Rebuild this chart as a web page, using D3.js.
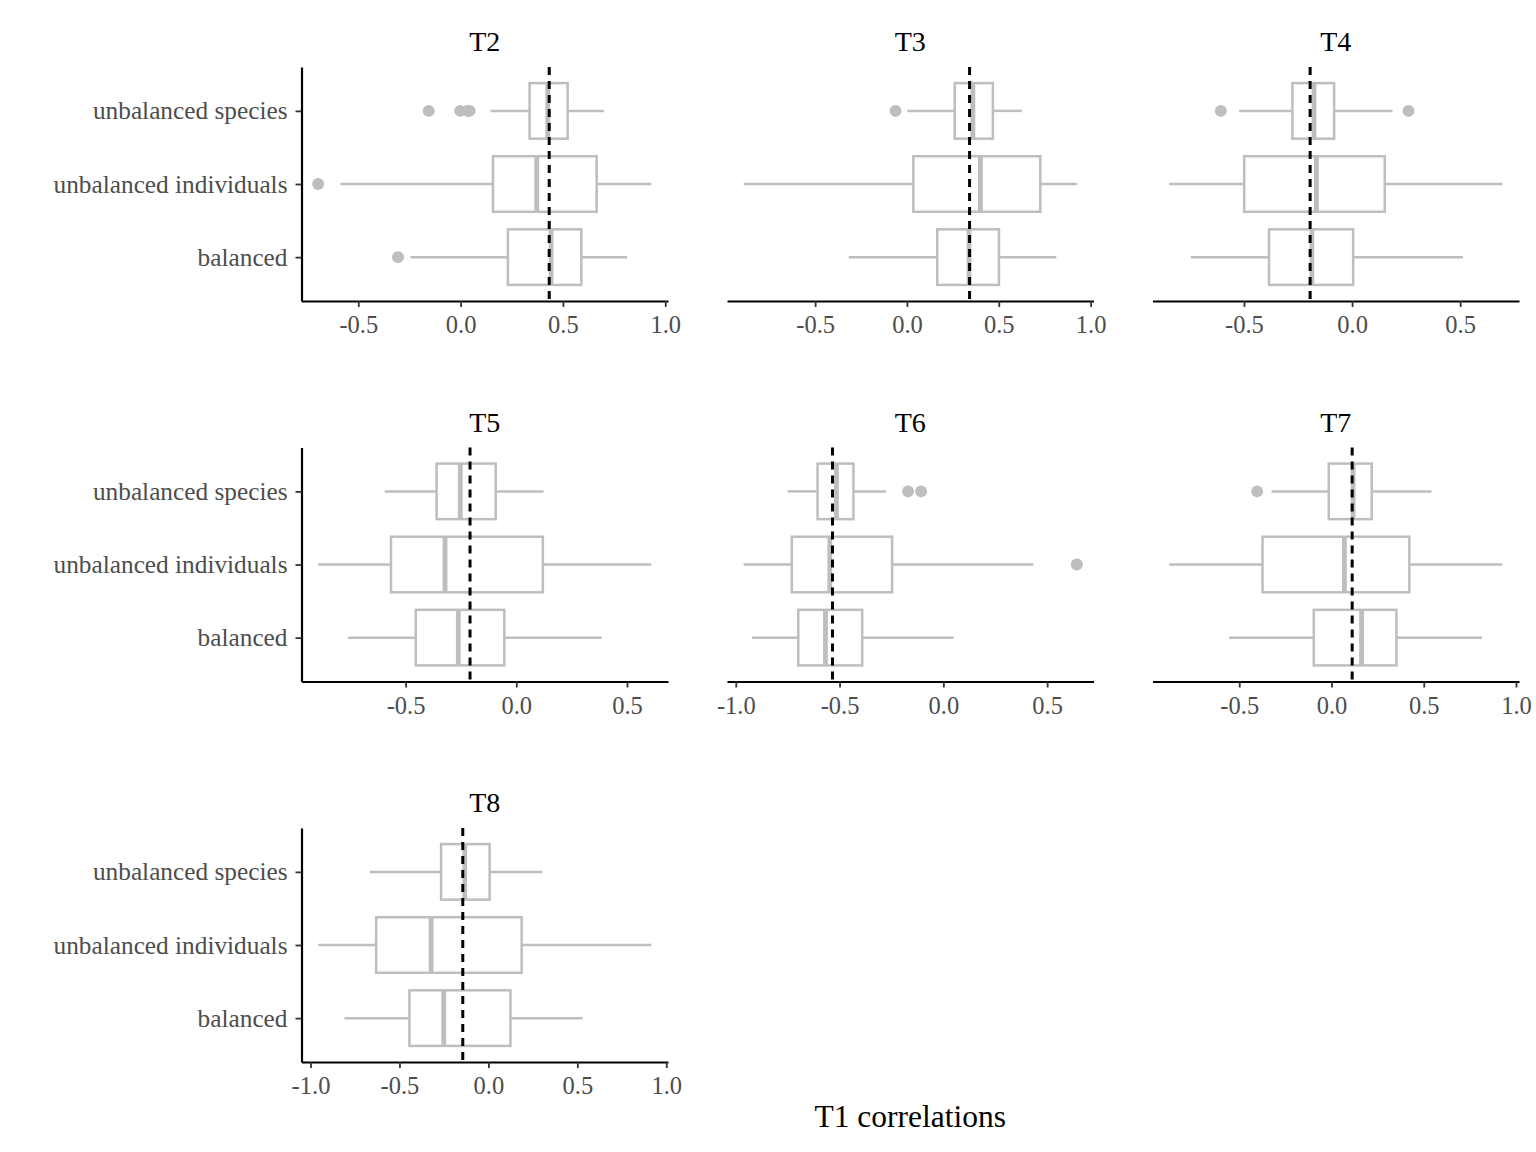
<!DOCTYPE html>
<html>
<head>
<meta charset="utf-8">
<script src="https://cdn.jsdelivr.net/npm/d3@7"></script>
<style>
  html, body { margin: 0; padding: 0; background: #fff; }
  svg { display: block; }
  text { font-family: "Liberation Serif", "DejaVu Serif", serif; }
</style>
</head>
<body>
<svg id="chart" width="1536" height="1152"></svg>
<script>
// ---------------- data ----------------
const panels = ["T2", "T3", "T4", "T5", "T6", "T7", "T8"];
const categories = ["balanced", "unbalanced individuals", "unbalanced species"];
// per panel: [balanced, unbalanced individuals, unbalanced species]
const whiskerLow = [
  [-0.245, -0.587, 0.146],
  [-0.317, -0.889, 0.002],
  [-0.746, -0.846, -0.522],
  [-0.760, -0.895, -0.594],
  [-0.921, -0.962, -0.750],
  [-0.555, -0.880, -0.325],
  [-0.809, -0.957, -0.667]
];
const q1 = [
  [0.231, 0.158, 0.337],
  [0.165, 0.035, 0.260],
  [-0.384, -0.499, -0.276],
  [-0.454, -0.566, -0.360],
  [-0.699, -0.730, -0.606],
  [-0.096, -0.374, -0.015],
  [-0.444, -0.631, -0.266]
];
const median = [
  [0.442, 0.372, 0.426],
  [0.338, 0.400, 0.359],
  [-0.186, -0.165, -0.176],
  [-0.262, -0.322, -0.253],
  [-0.568, -0.547, -0.515],
  [0.163, 0.070, 0.117],
  [-0.251, -0.322, -0.133]
];
const q3 = [
  [0.590, 0.665, 0.523],
  [0.501, 0.726, 0.468],
  [0.005, 0.151, -0.083],
  [-0.054, 0.120, -0.093],
  [-0.391, -0.247, -0.433],
  [0.352, 0.422, 0.218],
  [0.124, 0.187, 0.007]
];
const whiskerHigh = [
  [0.813, 0.932, 0.700],
  [0.813, 0.925, 0.626],
  [0.513, 0.695, 0.187],
  [0.386, 0.610, 0.123],
  [0.050, 0.433, -0.277],
  [0.816, 0.926, 0.542],
  [0.530, 0.916, 0.304]
];
const outliers = [
  [[-0.306], [-0.696], [-0.156, -0.002, 0.034, 0.044]],
  [[], [], [-0.062]],
  [[], [], [-0.607, 0.261]],
  [[], [], []],
  [[], [0.643], [-0.170, -0.107]],
  [[], [], [-0.403]],
  [[], [], []]
];
const refLine = [0.433, 0.341, -0.194, -0.209, -0.534, 0.112, -0.144];
const tickValues = [-1.0, -0.5, 0.0, 0.5, 1.0];
const xTitle = "T1 correlations";

// ---------------- layout ----------------
const colLeft = [301.5, 727, 1152.5];
const rowTop = [67, 447.5, 828];
const panelW = 366.5, panelH = 234;
const boxColor = "#bebebe";
const textColor = "#4d4d4d";

const svg = d3.select("#chart");

panels.forEach((name, p) => {
  const col = p % 3, row = Math.floor(p / 3);
  const x0 = colLeft[col], y0 = rowTop[row];
  const g = svg.append("g").attr("transform", `translate(${x0},${y0})`);

  // data extent -> domain with 5% expansion
  const vals = [];
  categories.forEach((c, i) => {
    vals.push(whiskerLow[p][i], whiskerHigh[p][i], ...outliers[p][i]);
  });
  const lo = d3.min(vals), hi = d3.max(vals);
  const pad = (hi - lo) * 0.05;
  const x = d3.scaleLinear().domain([lo - pad, hi + pad]).range([0, panelW]);
  const y = d3.scalePoint().domain(categories).range([panelH, 0]).padding(0.6);
  const step = y.step();
  const bw = step * 0.76;

  categories.forEach((c, i) => {
    const cy = y(c);
    // whiskers
    g.append("line").attr("x1", x(whiskerLow[p][i])).attr("x2", x(q1[p][i]))
      .attr("y1", cy).attr("y2", cy).attr("stroke", boxColor).attr("stroke-width", 2.5);
    g.append("line").attr("x1", x(q3[p][i])).attr("x2", x(whiskerHigh[p][i]))
      .attr("y1", cy).attr("y2", cy).attr("stroke", boxColor).attr("stroke-width", 2.5);
    // box
    g.append("rect").attr("x", x(q1[p][i])).attr("y", cy - bw / 2)
      .attr("width", x(q3[p][i]) - x(q1[p][i])).attr("height", bw)
      .attr("fill", "#fff").attr("stroke", boxColor).attr("stroke-width", 2.5);
    // median
    g.append("line").attr("x1", x(median[p][i])).attr("x2", x(median[p][i]))
      .attr("y1", cy - bw / 2).attr("y2", cy + bw / 2)
      .attr("stroke", boxColor).attr("stroke-width", 4.8);
    // outliers
    outliers[p][i].forEach(v => {
      g.append("circle").attr("cx", x(v)).attr("cy", cy).attr("r", 6).attr("fill", boxColor);
    });
  });

  // reference dashed line
  g.append("line").attr("x1", x(refLine[p])).attr("x2", x(refLine[p]))
    .attr("y1", 0).attr("y2", panelH)
    .attr("stroke", "#000").attr("stroke-width", 3).attr("stroke-dasharray", "8,6");

  // x axis
  const ticks = tickValues.filter(t => t >= x.domain()[0] && t <= x.domain()[1]);
  const xAxis = d3.axisBottom(x).tickValues(ticks).tickSize(6).tickSizeOuter(0)
    .tickFormat(d => d.toFixed(1));
  const ax = g.append("g").attr("transform", `translate(0,${panelH})`).call(xAxis);
  ax.select(".domain").attr("stroke", "#000").attr("stroke-width", 2.2);
  ax.selectAll(".tick line").attr("stroke", "#333").attr("stroke-width", 1.8);
  ax.selectAll(".tick text").attr("fill", textColor).attr("font-size", 24.5)
    .attr("font-family", "Liberation Serif, serif").attr("dy", "0").attr("y", 32);

  // y axis (left column only)
  if (col === 0) {
    const yAxis = d3.axisLeft(y).tickSize(6).tickSizeOuter(0);
    const ay = g.append("g").call(yAxis);
    ay.select(".domain").attr("stroke", "#000").attr("stroke-width", 2.2);
    ay.selectAll(".tick line").attr("stroke", "#333").attr("stroke-width", 1.8);
    ay.selectAll(".tick text").attr("fill", textColor).attr("font-size", 25.3)
      .attr("font-family", "Liberation Serif, serif").attr("x", -14).attr("dy", "0.32em");
  }

  // strip title
  g.append("text").attr("x", panelW / 2).attr("y", 51 - 67)
    .attr("text-anchor", "middle").attr("font-size", 28).attr("fill", "#000")
    .text(name);
});

// x-axis title
svg.append("text")
  .attr("x", (colLeft[0] + colLeft[2] + panelW) / 2).attr("y", 1127)
  .attr("text-anchor", "middle").attr("font-size", 31.5).attr("fill", "#000")
  .text(xTitle);
</script>
</body>
</html>
